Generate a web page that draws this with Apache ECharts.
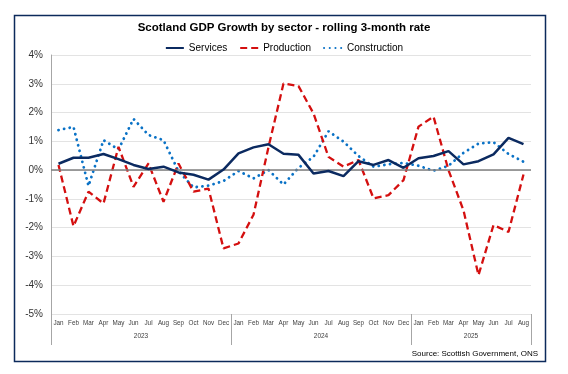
<!DOCTYPE html>
<html>
<head>
<meta charset="utf-8">
<script src="https://cdn.jsdelivr.net/npm/echarts@6/dist/echarts.min.js"></script>
<style>
html,body{margin:0;padding:0;background:#fff;}
#c{width:568px;height:374px;}
</style>
</head>
<body>
<div id="c"></div>
<script>
var months = ['Jan','Feb','Mar','Apr','May','Jun','Jul','Aug','Sep','Oct','Nov','Dec',
              'Jan','Feb','Mar','Apr','May','Jun','Jul','Aug','Sep','Oct','Nov','Dec',
              'Jan','Feb','Mar','Apr','May','Jun','Jul','Aug'];
var years = ['2023','2024','2025'];
var yearLengths = [12, 12, 8];

var services = [0.22,0.43,0.43,0.56,0.38,0.18,0.04,0.12,-0.08,-0.16,-0.33,0.02,
                0.58,0.79,0.9,0.57,0.53,-0.12,-0.03,-0.21,0.31,0.18,0.35,0.08,
                0.41,0.49,0.66,0.2,0.31,0.55,1.12,0.9];
var production = [0.18,-1.95,-0.75,-1.16,0.81,-0.58,0.23,-1.1,0.23,-0.75,-0.64,-2.72,
                  -2.55,-1.55,0.8,3.01,2.92,1.97,0.46,0.12,0.35,-0.98,-0.87,-0.35,
                  1.51,1.86,0.0,-1.4,-3.65,-1.91,-2.15,-0.15];
var construction = [1.39,1.5,-0.55,1.04,0.72,1.78,1.22,1.04,-0.04,-0.6,-0.54,-0.38,
                    -0.03,-0.29,0.0,-0.5,0.08,0.46,1.35,0.99,0.49,0.12,0.2,0.25,
                    0.15,-0.02,0.15,0.6,0.92,0.97,0.56,0.29];
var yTicks = [-5,-4,-3,-2,-1,0,1,2,3,4];

var yearLabelIdx = {};
var yearStartIdx = {};
(function(){
  var s = 0;
  for (var k = 0; k < years.length; k++) {
    yearStartIdx[s] = true;
    yearLabelIdx[s + Math.floor(yearLengths[k] / 2)] = years[k];
    s += yearLengths[k];
  }
})();

var chart = echarts.init(document.getElementById('c'), null, {renderer:'canvas'});
var font = "'Liberation Sans', Arial, sans-serif";

chart.setOption({
  animation: false,
  textStyle: {fontFamily: font},
  title: [{
    text: 'Scotland GDP Growth by sector - rolling 3-month rate',
    left: 'center', top: 22, padding: 0,
    textStyle: {fontSize: 11.5, fontWeight: 'bold', color: '#000', fontFamily: font}
  }, {
    text: 'Source: Scottish Government, ONS',
    right: 30, top: 350, padding: 0,
    textStyle: {fontSize: 8, fontWeight: 'normal', color: '#000', fontFamily: font}
  }],
  legend: {
    top: 38, left: 'center',
    itemWidth: 18, itemHeight: 12, itemGap: 12,
    itemStyle: {opacity: 0},
    textStyle: {fontSize: 10, color: '#000', fontFamily: font},
    data: ['Services','Production','Construction']
  },
  grid: {left: 51, right: 37, top: 55, bottom: 60, containLabel: false},
  xAxis: [{
    type: 'category', data: months, boundaryGap: true,
    axisLine: {show: false}, axisTick: {show: false},
    axisLabel: {interval: 0, fontSize: 6.3, color: '#404040', margin: 6, fontFamily: font}
  }, {
    type: 'category', data: months, boundaryGap: true, position: 'bottom',
    axisLine: {show: false},
    axisTick: {show: true, length: 31, lineStyle: {color: '#A6A6A6', width: 1},
      interval: function (i) { return !!yearStartIdx[i]; }},
    axisLabel: {
      interval: function (i) { return yearLabelIdx[i] !== undefined; },
      formatter: function (v, i) { return yearLabelIdx[i] || ''; },
      fontSize: 6.5, color: '#404040', margin: 19, padding: [0, 15, 0, 0], fontFamily: font
    }
  }],
  yAxis: {
    type: 'value', min: yTicks[0], max: yTicks[yTicks.length-1], interval: 1,
    axisLine: {show: true, lineStyle: {color: '#A6A6A6', width: 1}},
    axisTick: {show: false},
    axisLabel: {fontSize: 10, color: '#333', margin: 8, formatter: '{value}%', fontFamily: font},
    splitLine: {show: true, lineStyle: {color: '#E3E3E3', width: 1}}
  },
  series: [{
    name: 'Services', type: 'line', data: services, symbol: 'none',
    lineStyle: {color: '#0B2A60', width: 2.5},
    itemStyle: {color: '#0B2A60'}, z: 5,
    markLine: {
      silent: true, symbol: 'none', label: {show: false},
      lineStyle: {color: '#7F7F7F', width: 1.5, type: 'solid'},
      data: [{yAxis: 0}]
    }
  }, {
    name: 'Production', type: 'line', data: production, symbol: 'none',
    lineStyle: {color: '#D40F0F', width: 2.3, type: [7, 4]},
    itemStyle: {color: '#D40F0F'}, z: 4
  }, {
    name: 'Construction', type: 'line', data: construction, symbol: 'none',
    lineStyle: {color: '#0A72C6', width: 2.8, type: [0.1, 5.6], cap: 'round'},
    itemStyle: {color: '#0A72C6'}, z: 3
  }],
  graphic: [{
    type: 'rect', shape: {x: 14.5, y: 15.5, width: 531, height: 346},
    style: {fill: 'none', stroke: '#0C2A5B', lineWidth: 1.5}, silent: true, z: 100
  }]
});
</script>
</body>
</html>
